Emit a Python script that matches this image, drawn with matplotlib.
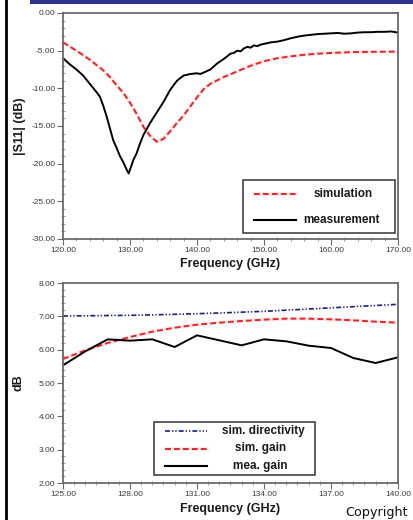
import matplotlib
matplotlib.use("Agg")
import matplotlib.pyplot as plt
import numpy as np
from matplotlib.ticker import MultipleLocator, FixedLocator, FormatStrFormatter
from matplotlib.lines import Line2D
from matplotlib.patches import Rectangle

# ---- |S11| data -------------------------------------------------------
s11_sim_freq = [120, 122, 124, 126, 127, 128, 129, 130, 131, 132, 133, 134,
                135, 136, 137, 138, 139, 140, 141, 142, 144, 146, 148, 150,
                152, 154, 156, 158, 160, 163, 166, 170]
s11_sim_db = [-3.9, -5.0, -6.2, -7.6, -8.5, -9.6, -10.6, -11.9, -13.4, -15.1,
              -16.3, -17.1, -16.7, -15.7, -14.6, -13.6, -12.4, -11.2, -10.1,
              -9.4, -8.5, -7.75, -7.0, -6.4, -6.0, -5.75, -5.55, -5.4, -5.3,
              -5.2, -5.15, -5.13]

s11_meas_freq = [120, 121, 122, 123, 124, 125, 125.5, 126, 126.5, 127, 127.5,
                 128, 128.5, 129, 129.5, 129.8, 130.2, 130.5, 131, 131.5, 132,
                 133, 134, 135, 136, 137, 138, 139, 140, 140.5, 141, 142, 143,
                 144, 145, 145.5, 146, 146.5, 147, 147.5, 148, 148.5, 149,
                 149.5, 150, 151, 152, 153, 154, 155, 156, 157, 158, 159, 160,
                 161, 162, 163, 164, 165, 166, 167, 168, 169, 170]
s11_meas_db = [-6.0, -6.8, -7.5, -8.3, -9.4, -10.5, -11.1, -12.3, -13.7, -15.3,
               -16.9, -17.9, -19.0, -19.8, -20.8, -21.3, -20.3, -19.5, -18.6,
               -17.3, -16.2, -14.6, -13.2, -11.8, -10.2, -9.0, -8.3, -8.1,
               -8.0, -8.1, -7.9, -7.5, -6.7, -6.1, -5.4, -5.3, -5.0, -5.1,
               -4.7, -4.5, -4.6, -4.3, -4.4, -4.2, -4.1, -3.9, -3.8, -3.6,
               -3.35, -3.15, -3.0, -2.9, -2.8, -2.75, -2.7, -2.65, -2.75,
               -2.7, -2.6, -2.55, -2.55, -2.5, -2.5, -2.45, -2.6]

# ---- gain / directivity data ----------------------------------------
dir_freq = [125, 128, 130, 132, 134, 136, 138, 140]
dir_db = [7.01, 7.03, 7.06, 7.10, 7.15, 7.22, 7.29, 7.36]

gain_freq = [125, 126, 127, 128, 129, 130, 131, 132, 133, 134, 135, 136, 137,
             138, 139, 140]
sim_gain_db = [5.72, 5.98, 6.20, 6.38, 6.54, 6.66, 6.75, 6.81, 6.86, 6.90,
               6.93, 6.93, 6.91, 6.88, 6.84, 6.81]
mea_gain_db = [5.53, 5.95, 6.31, 6.27, 6.31, 6.08, 6.43, 6.28, 6.13, 6.31,
               6.25, 6.12, 6.05, 5.75, 5.60, 5.77]

top_legend = ["simulation", "measurement"]
bottom_legend = ["sim. directivity", "sim. gain", "mea. gain"]
xlabel = "Frequency (GHz)"
gain_xticks = [125, 128, 131, 134, 137, 140]

RED = "#e0262b"
HALO = "#f7c4c4"
BLUE = "#1c1f7a"
SPINE = "#6a6a6a"
TICKC = "#3a3a3a"
DIRDASH = (3.0, 1.2, 0.8, 1.2, 0.8, 1.2)

plt.rcParams["font.family"] = ["Liberation Sans", "DejaVu Sans"]

fig = plt.figure(figsize=(4.13, 5.20), dpi=100)
W, H = 413.0, 520.0


def px_axes(x0, y0, x1, y1):
    return fig.add_axes([x0 / W, 1 - y1 / H, (x1 - x0) / W, (y1 - y0) / H])


def style_axes(ax):
    for s in ax.spines.values():
        s.set_color(SPINE)
        s.set_linewidth(1.3)
    ax.tick_params(which="major", direction="out", length=4, width=0.8,
                   color=SPINE, labelsize=6, labelcolor=TICKC, pad=1.5)
    ax.tick_params(which="minor", direction="inout", length=3, width=0.6,
                   color="#8a8a8a")
    ax.tick_params(top=False, right=False)
    ax.xaxis.set_major_formatter(FormatStrFormatter("%.2f"))
    ax.yaxis.set_major_formatter(FormatStrFormatter("%.2f"))


def red_dashed(ax, x, y):
    ax.plot(x, y, color=HALO, lw=3.0, alpha=0.35, solid_capstyle="round")
    ax.plot(x, y, color=RED, lw=1.4, dashes=(3.0, 1.6))


def draw_legend(ax, box, entries):
    # box in axes fraction: (x0, y0, x1, y1)
    x0, y0, x1, y1 = box
    ax.add_patch(Rectangle((x0, y0), x1 - x0, y1 - y0, transform=ax.transAxes,
                           facecolor="white", edgecolor="#333333", lw=1.1,
                           zorder=5))
    n = len(entries)
    for i, (label, kind, lx0, lx1, tx) in enumerate(entries):
        yy = y1 - (y1 - y0) * (i + 0.5) / n
        if kind == "red":
            ax.add_line(Line2D([lx0, lx1], [yy, yy], transform=ax.transAxes,
                               color=HALO, lw=3, alpha=0.35, zorder=6))
            ax.add_line(Line2D([lx0, lx1], [yy, yy], transform=ax.transAxes,
                               color=RED, lw=1.4, dashes=(3.0, 1.6), zorder=6))
        elif kind == "black":
            ax.add_line(Line2D([lx0, lx1], [yy, yy], transform=ax.transAxes,
                               color="black", lw=1.5, zorder=6))
        else:
            ax.add_line(Line2D([lx0, lx1], [yy, yy], transform=ax.transAxes,
                               color=BLUE, lw=1.2, dashes=DIRDASH, zorder=6))
        ax.text(tx, yy, label, transform=ax.transAxes, ha="center",
                va="center", fontsize=8.5, fontweight="bold", color="#1a1a1a",
                zorder=7)


# ---- top panel: |S11| ------------------------------------------------
ax1 = px_axes(63, 13, 398, 239)
red_dashed(ax1, s11_sim_freq, s11_sim_db)
ax1.plot(s11_meas_freq, s11_meas_db, color="black", lw=1.4)
ax1.set_xlim(120, 170)
ax1.set_ylim(-30, 0)
ax1.xaxis.set_major_locator(MultipleLocator(10))
ax1.xaxis.set_minor_locator(MultipleLocator(2))
ax1.yaxis.set_major_locator(MultipleLocator(5))
ax1.yaxis.set_minor_locator(MultipleLocator(1))
style_axes(ax1)
ax1.set_xlabel(xlabel, fontsize=9, fontweight="bold", color="#1a1a1a",
               labelpad=3)
ax1.set_ylabel("|S11| (dB)", fontsize=9, fontweight="bold", color="#1a1a1a",
               labelpad=4)
draw_legend(ax1, (0.538, 0.025, 0.99, 0.26),
            [(top_legend[0], "red", 0.57, 0.695, 0.835),
             (top_legend[1], "black", 0.57, 0.695, 0.83)])

# ---- bottom panel: gain ----------------------------------------------
ax2 = px_axes(63, 283, 398, 483)
ax2.plot(dir_freq, dir_db, color=BLUE, lw=1.2, dashes=DIRDASH)
red_dashed(ax2, gain_freq, sim_gain_db)
ax2.plot(gain_freq, mea_gain_db, color="black", lw=1.4)
ax2.set_xlim(125, 140)
ax2.set_ylim(2, 8)
ax2.xaxis.set_major_locator(FixedLocator(gain_xticks))
ax2.xaxis.set_minor_locator(FixedLocator(np.arange(125, 140.01, 0.5)))
ax2.yaxis.set_major_locator(MultipleLocator(1))
ax2.yaxis.set_minor_locator(MultipleLocator(0.2))
style_axes(ax2)
ax2.set_xlabel(xlabel, fontsize=9, fontweight="bold", color="#1a1a1a",
               labelpad=4)
ax2.set_ylabel("dB", fontsize=9, fontweight="bold", color="#1a1a1a",
               labelpad=10)
draw_legend(ax2, (0.272, 0.04, 0.752, 0.305),
            [(bottom_legend[0], "blue", 0.303, 0.43, 0.597),
             (bottom_legend[1], "red", 0.303, 0.43, 0.59),
             (bottom_legend[2], "black", 0.303, 0.43, 0.59)])

# ---- page decorations ------------------------------------------------
fig.add_artist(Rectangle((30 / W, 1 - 3.5 / H), 1 - 30 / W, 3.5 / H,
                         transform=fig.transFigure, facecolor="#2e3190",
                         edgecolor="none"))
fig.add_artist(Line2D([6.2 / W, 6.2 / W], [0, 1], transform=fig.transFigure,
                      color="black", lw=2.0))
fig.text(345 / W, 1 / H, "Copyright", fontsize=9.2, family="DejaVu Sans",
         color="#111111", ha="left", va="bottom")

fig.savefig("out.png", dpi=100)
